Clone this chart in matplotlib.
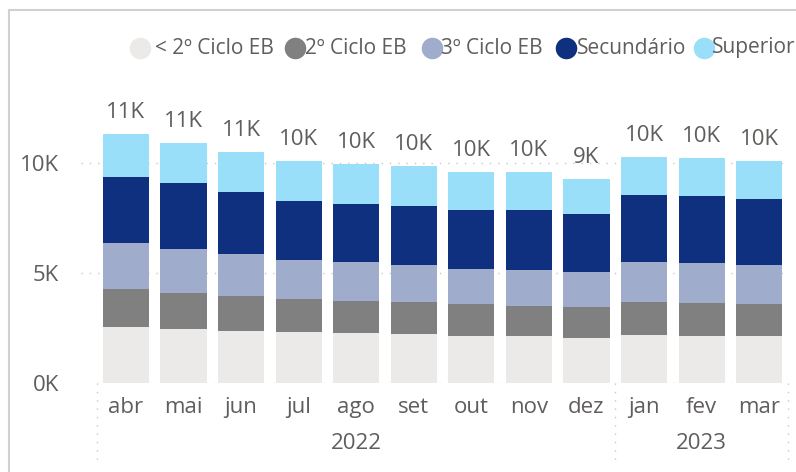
import matplotlib
matplotlib.use('Agg')
import matplotlib.pyplot as plt
import matplotlib.transforms as mtransforms
from matplotlib.patches import Rectangle
from matplotlib.lines import Line2D
import numpy as np

plt.rcParams['font.family'] = ['Open Sans', 'DejaVu Sans']

months = ['abr', 'mai', 'jun', 'jul', 'ago', 'set', 'out', 'nov', 'dez', 'jan', 'fev', 'mar']
series = ['< 2º Ciclo EB', '2º Ciclo EB', '3º Ciclo EB', 'Secundário', 'Superior']
colors = ['#EBEAE8', '#808080', '#A0ACCB', '#0F2F7F', '#99DFF9']

lt2 = [2540, 2450, 2360, 2310, 2270, 2220, 2130, 2130, 2040, 2180, 2130, 2130]
c2 = [1730, 1640, 1590, 1500, 1450, 1460, 1460, 1360, 1410, 1500, 1500, 1460]
c3 = [2100, 2000, 1920, 1780, 1780, 1680, 1590, 1640, 1600, 1820, 1830, 1770]
sec = [3010, 3010, 2820, 2690, 2640, 2690, 2690, 2740, 2640, 3050, 3050, 3010]
sup = [1960, 1830, 1830, 1820, 1830, 1830, 1730, 1730, 1590, 1740, 1730, 1730]

years = ['2022', '2023']
year_spans = [(-0.5, 8.5), (8.5, 11.5)]

txt = '#605E5C'
grid_c = '#C8C8C8'

fig = plt.figure(figsize=(7.96, 4.72), dpi=100)
ax = fig.add_axes([81 / 796, 1 - 382.7 / 472, 707 / 796, 274.3 / 472])

# visual frame
fig.add_artist(Rectangle((9 / 796, -0.1), 1.2, (472 - 10) / 472 + 0.1,
                         transform=fig.transFigure, fill=False,
                         edgecolor='#D3D1CD', lw=1.5))

x = np.arange(len(months))
bottom = np.zeros(len(months))
for vals, col in zip([lt2, c2, c3, sec, sup], colors):
    ax.bar(x, vals, width=0.8, bottom=bottom, color=col, zorder=2)
    bottom += np.array(vals)

for xi, tot in zip(x, bottom):
    ax.annotate(f'{round(tot / 1000)}K', (xi, tot), xytext=(0, 8),
                textcoords='offset points', ha='center', va='bottom',
                fontsize=16, color=txt)

ax.set_xlim(-0.78, 11.5)
ax.set_ylim(0, 12500)
ax.set_yticks([0, 5000, 10000], ['0K', '5K', '10K'])
ax.yaxis.grid(True, color=grid_c, linestyle=(0, (1, 5)), lw=1)
ax.set_axisbelow(True)
for s in ax.spines.values():
    s.set_visible(False)
ax.tick_params(axis='y', length=0, pad=16, labelsize=16, labelcolor=txt)
ax.set_xticks(x, months)
ax.tick_params(axis='x', length=0, pad=10, labelsize=16, labelcolor=txt)

# year grouping
trans = mtransforms.blended_transform_factory(ax.transData, ax.transAxes)
for xv in [-0.5, 8.5, 11.5]:
    ax.add_line(Line2D([xv, xv], [0, -0.28], transform=trans, clip_on=False,
                       color=grid_c, linestyle=(0, (1, 5)), lw=1))
for yr, (a, b) in zip(years, year_spans):
    ax.text((a + b) / 2, -0.22, yr, transform=trans, ha='center', va='center',
            fontsize=16, color=txt)

# legend
leg_x = [140, 295, 432, 566, 704]
leg_tx = [155, 305, 441, 577, 712]
for lx, tx, name, col in zip(leg_x, leg_tx, series, colors):
    fig.add_artist(Line2D([lx / 796], [1 - 48 / 472], transform=fig.transFigure,
                          marker='o', markersize=14.5, color=col, lw=0))
    fig.text(tx / 796, 1 - 48 / 472, name, ha='left', va='center',
             fontsize=15, color=txt)

fig.savefig('out.png', dpi=100)
